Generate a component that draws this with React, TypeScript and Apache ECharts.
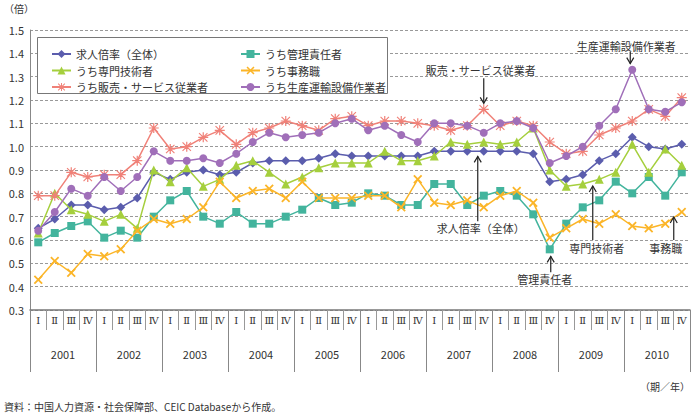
import React, { useEffect, useRef } from "react";
import * as echarts from "echarts";

const years = ["2001", "2002", "2003", "2004", "2005", "2006", "2007", "2008", "2009", "2010"];
const quarterNames = ["Ⅰ", "Ⅱ", "Ⅲ", "Ⅳ"];
const categories = years.flatMap((y) => quarterNames.map((q) => y + q));

const seriesNames = [
  "求人倍率（全体）",
  "うち管理責任者",
  "うち専門技術者",
  "うち事務職",
  "うち販売・サービス従業者",
  "うち生産運輸設備作業者",
];

const overall = [0.65, 0.69, 0.75, 0.75, 0.73, 0.74, 0.78, 0.89, 0.86, 0.89, 0.9, 0.88, 0.89, 0.93, 0.94, 0.94, 0.94, 0.95, 0.97, 0.96, 0.96, 0.96, 0.96, 0.96, 0.98, 0.98, 0.98, 0.98, 0.98, 0.98, 0.97, 0.85, 0.86, 0.88, 0.94, 0.97, 1.04, 1.0, 0.99, 1.01];
const managers = [0.59, 0.63, 0.66, 0.68, 0.61, 0.64, 0.61, 0.7, 0.77, 0.81, 0.7, 0.67, 0.72, 0.67, 0.67, 0.7, 0.73, 0.78, 0.75, 0.76, 0.8, 0.79, 0.75, 0.75, 0.84, 0.84, 0.75, 0.79, 0.81, 0.79, 0.71, 0.56, 0.67, 0.74, 0.77, 0.85, 0.8, 0.87, 0.79, 0.89];
const professionals = [0.63, 0.8, 0.73, 0.71, 0.68, 0.71, 0.65, 0.9, 0.85, 0.91, 0.83, 0.86, 0.92, 0.94, 0.89, 0.84, 0.87, 0.91, 0.93, 0.93, 0.93, 0.98, 0.94, 0.94, 0.96, 1.02, 1.01, 1.02, 1.01, 1.02, 1.08, 0.9, 0.83, 0.84, 0.86, 0.89, 1.01, 0.89, 0.99, 0.92];
const clerical = [0.43, 0.51, 0.46, 0.54, 0.53, 0.56, 0.64, 0.69, 0.67, 0.69, 0.74, 0.85, 0.78, 0.81, 0.82, 0.78, 0.85, 0.78, 0.78, 0.78, 0.79, 0.79, 0.74, 0.86, 0.76, 0.75, 0.77, 0.74, 0.79, 0.81, 0.76, 0.61, 0.65, 0.69, 0.67, 0.71, 0.66, 0.65, 0.67, 0.72];
const sales = [0.79, 0.79, 0.89, 0.87, 0.88, 0.88, 0.94, 1.08, 0.99, 1.0, 1.04, 1.07, 1.01, 1.06, 1.08, 1.11, 1.09, 1.07, 1.12, 1.13, 1.09, 1.11, 1.11, 1.1, 1.09, 1.07, 1.09, 1.16, 1.09, 1.11, 1.09, 1.02, 0.97, 0.98, 1.05, 1.08, 1.11, 1.16, 1.13, 1.21];
const production = [0.64, 0.72, 0.82, 0.79, 0.87, 0.81, 0.87, 0.98, 0.94, 0.94, 0.95, 0.93, 0.97, 1.02, 1.06, 1.04, 1.05, 1.06, 1.1, 1.12, 1.07, 1.09, 1.05, 1.02, 1.1, 1.1, 1.09, 1.06, 1.1, 1.11, 1.08, 0.93, 0.96, 1.0, 1.09, 1.16, 1.33, 1.16, 1.15, 1.19];

const seriesData = [overall, managers, professionals, clerical, sales, production];
const colors = ["#5b5dad", "#43b49d", "#a5cf3d", "#fbb528", "#f08178", "#a06fb9"];

const X_PATH = "path://M1.4,0L5,3.6L8.6,0L10,1.4L6.4,5L10,8.6L8.6,10L5,6.4L1.4,10L0,8.6L3.6,5L0,1.4Z";
const AST_PATH =
  "path://M1.2,0.4L5,4.2L8.8,0.4L9.6,1.2L5.8,5L9.6,8.8L8.8,9.6L5,5.8L1.2,9.6L0.4,8.8L4.2,5L0.4,1.2Z M4.4,0H5.6V4.4H10V5.6H5.6V10H4.4V5.6H0V4.4H4.4Z";
const symbols = ["diamond", "rect", "triangle", X_PATH, AST_PATH, "circle"];
const symbolSizes = [9, 8, 9, 9, 10, 8];

const annotations = [
  { text: "生産運輸設備作業者", s: 5, i: 36, dx: -2, tip: -6, tail: -18, tdx: -6, ty: -24 },
  { text: "販売・サービス従業者", s: 4, i: 27, dx: 0, tip: -6, tail: -31, tdx: -3, ty: -39 },
  { text: "求人倍率（全体）", s: 0, i: 27, dx: -6, tip: 5, tail: 70, tdx: -3, ty: 77 },
  { text: "管理責任者", s: 1, i: 31, dx: 1, tip: 7, tail: 23, tdx: -5, ty: 30 },
  { text: "専門技術者", s: 2, i: 33, dx: 10, tip: 2, tail: 56, tdx: 14, ty: 64 },
  { text: "事務職", s: 3, i: 39, dx: -8, tip: 5, tail: 28, tdx: -16, ty: 36 },
];

const FONT = "'Noto Sans CJK JP', 'Noto Sans', sans-serif";

export default function App() {
  const ref = useRef<HTMLDivElement>(null);
  useEffect(() => {
    if (!ref.current) return;
    const chart = echarts.init(ref.current, null, { renderer: "svg" });
    const legendStyle = {
      orient: "vertical",
      top: 42,
      itemGap: 2.5,
      itemWidth: 19,
      itemHeight: 10,
      textStyle: { fontSize: 11, color: "#333", fontFamily: FONT, lineHeight: 14 },
    };
    chart.setOption({
      animation: false,
      textStyle: { fontFamily: FONT },
      grid: { left: 30, right: 6, top: 30, bottom: 106, containLabel: false },
      legend: [
        { ...legendStyle, left: 46, data: [seriesNames[0], seriesNames[2], seriesNames[4]] },
        { ...legendStyle, left: 235, data: [seriesNames[1], seriesNames[3], seriesNames[5]] },
      ],
      xAxis: [
        {
          type: "category",
          data: categories,
          position: "bottom",
          boundaryGap: true,
          axisLine: { onZero: false, lineStyle: { color: "#777", width: 1.5 } },
          axisTick: { show: true, interval: 0, length: 20, lineStyle: { color: "#999" } },
          axisLabel: {
            interval: 0,
            margin: 5,
            fontSize: 10,
            color: "#333",
            fontFamily: "'DejaVu Serif', serif",
            formatter: (v: string) => v.slice(4),
          },
        },
        {
          type: "category",
          data: years,
          position: "bottom",
          boundaryGap: true,
          axisLine: { show: false, onZero: false },
          axisTick: { show: true, interval: 0, length: 62, lineStyle: { color: "#888" } },
          axisLabel: { interval: 0, margin: 38, fontSize: 11, color: "#333", fontFamily: FONT },
        },
      ],
      yAxis: {
        type: "value",
        min: 0.3,
        max: 1.5,
        interval: 0.1,
        axisLine: { show: true, lineStyle: { color: "#888" } },
        axisTick: { show: false },
        axisLabel: {
          fontSize: 11,
          color: "#333",
          margin: 6,
          fontFamily: FONT,
          formatter: (v: number) => v.toFixed(1),
        },
        splitLine: { show: true, lineStyle: { color: "#999", type: [3, 2], width: 1 } },
      },
      series: seriesNames.map((name, k) => ({
        name,
        type: "line",
        xAxisIndex: 0,
        data: seriesData[k],
        symbol: symbols[k],
        symbolSize: symbolSizes[k],
        showAllSymbol: true,
        lineStyle: { color: colors[k], width: 1.5 },
        itemStyle: { color: colors[k] },
        z: 2 + k * 0.1,
      })),
      graphic: [
        {
          type: "rect",
          z: 3,
          shape: { x: 37.5, y: 37.5, width: 350, height: 56 },
          style: { fill: "#fff", stroke: "#777", lineWidth: 1 },
        },
        {
          type: "text",
          x: 4,
          y: 8,
          style: { text: "（倍）", fontSize: 10, fill: "#333", fontFamily: FONT, verticalAlign: "middle", textAlign: "left" },
        },
      ],
    });

    const extra: any[] = [];
    annotations.forEach((a) => {
      const p = chart.convertToPixel({ xAxisIndex: 0, yAxisIndex: 0 }, [a.i, seriesData[a.s][a.i]]) as number[];
      const x = p[0] + a.dx;
      const tipY = p[1] + a.tip;
      const tailY = p[1] + a.tail;
      const dir = a.tip < 0 ? -1 : 1;
      extra.push({
        type: "line",
        z: 10,
        shape: { x1: x, y1: tailY, x2: x, y2: tipY },
        style: { stroke: "#222", lineWidth: 1.2 },
      });
      extra.push({
        type: "polyline",
        z: 10,
        shape: { points: [[x - 3.5, tipY + dir * 6], [x, tipY], [x + 3.5, tipY + dir * 6]] },
        style: { stroke: "#222", lineWidth: 1.2, fill: "none" },
      });
      extra.push({
        type: "text",
        z: 10,
        x: p[0] + a.tdx,
        y: p[1] + a.ty,
        style: { text: a.text, fontSize: 11, fill: "#333", fontFamily: FONT, textAlign: "center", verticalAlign: "middle" },
      });
    });
    extra.push({
      type: "text",
      x: 690,
      y: 386,
      style: { text: "（期／年）", fontSize: 10, fill: "#333", fontFamily: FONT, textAlign: "right", verticalAlign: "middle" },
    });
    extra.push({
      type: "text",
      x: 4,
      y: 406,
      style: { text: "資料：中国人力資源・社会保障部、CEIC Databaseから作成。", fontSize: 10, fill: "#333", fontFamily: FONT, textAlign: "left", verticalAlign: "middle" },
    });
    const opt: any = chart.getOption();
    const existing = (opt.graphic && opt.graphic[0] && opt.graphic[0].elements) || [];
    chart.setOption({ graphic: [...existing, ...extra] });

    return () => chart.dispose();
  }, []);
  return <div ref={ref} style={{ width: 696, height: 416, position: "absolute", left: 0, top: 0 }} />;
}
